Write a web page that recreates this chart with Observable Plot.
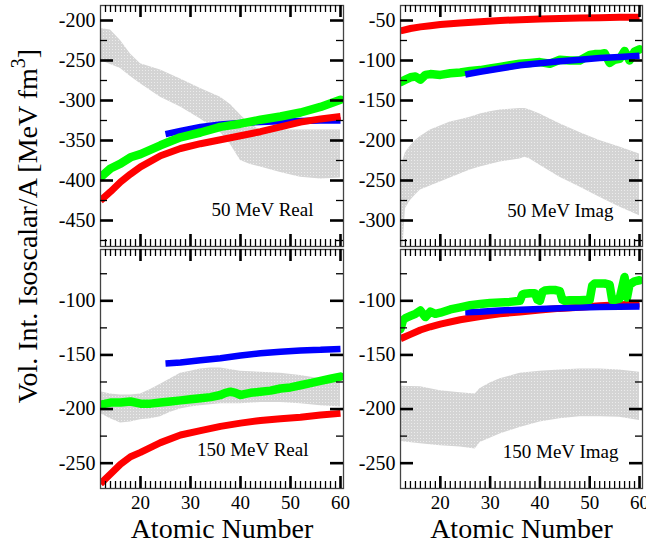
<!DOCTYPE html>
<html><head><meta charset="utf-8">
<script src="https://cdn.jsdelivr.net/npm/d3@7"></script>
<script src="https://cdn.jsdelivr.net/npm/@observablehq/plot@0.6"></script>
<style>
body{margin:0;background:#fff;}
#chart{position:relative;width:646px;height:544px;overflow:hidden;font-family:"Liberation Serif","Times New Roman",serif;background:#fff;}
#chart > svg{position:absolute;}
</style></head><body><div id="chart"></div>
<script>
// ---------- data ----------
const xMajor = [20, 30, 40, 50, 60];
const xMinor = d3.range(13, 60).filter(d => d % 10 !== 0);
const A_main = [12, 14, 16, 18, 20, 24, 28, 32, 36, 40, 44, 48, 52, 56, 60];
const A_blue = [25, 28, 32, 36, 40, 44, 48, 52, 56, 60];

// 50 MeV Real
const red50Real   = [-425, -414, -402, -392, -383, -369, -360, -354, -349, -344, -339, -333, -327, -323, -320];
const green50Real = [-396, -385, -379, -371, -367, -356, -346, -340, -333, -329, -324, -320, -315, -308, -299];
const blue50Real  = [-342, -338, -333, -330, -328, -327, -326, -325.5, -325, -325];
const band50RealA  = [12, 14, 16, 18, 20, 24, 28, 32, 36, 38, 40, 42, 44, 48, 52, 56, 60];
const band50RealHi = [-210, -212, -225, -242, -254, -262, -273, -285, -296, -305, -318, -330, -337, -337, -337, -337, -337];
const band50RealLo = [-250, -255, -260, -270, -279, -296, -308, -323, -340, -355, -375, -380, -383, -390, -396, -398, -397];

// 50 MeV Imag
const red50Imag = [-63, -60, -58, -56.5, -55, -53, -51.5, -50, -49, -48, -47.5, -47, -46.5, -46, -46];
const green50ImagA = [12, 13, 14, 15, 16, 17, 18, 20, 22, 24, 26, 28, 30, 32, 34, 36, 38, 40, 42, 44, 46, 48, 50, 51, 52, 53, 54, 55, 56, 57, 58, 59, 60];
const green50Imag  = [-127, -124, -121, -120, -124, -118, -117, -118, -116, -115, -113, -112, -110, -108, -106, -104, -103, -102, -104, -99, -100, -100, -93, -92, -92, -91, -103, -99, -98, -88, -100, -89, -86];
const blue50Imag = [-117.5, -114, -110, -106, -103.5, -101, -99, -97, -95.5, -94];
const band50ImagA  = [12, 12.5, 13, 14, 15, 16, 18, 20, 22, 24, 26, 28, 30, 32, 34, 36, 37, 38, 40, 44, 48, 52, 56, 60];
const band50ImagHi = [-238, -225, -215, -207, -200, -195, -187, -182, -177, -174, -171, -167, -164, -162, -161, -160, -160, -162, -167, -179, -190, -200, -208, -217];
const band50ImagLo = [-333, -333, -285, -275, -268, -262, -257, -252, -247, -242, -237, -233, -230, -227, -225, -223, -221, -223, -231, -246, -258, -271, -283, -294];

// 150 MeV Real
const red150Real = [-269, -260, -251, -244, -240, -231, -224, -220, -216, -213, -210.5, -209, -207.5, -205.5, -204];
const green150RealA = [12, 14, 16, 18, 20, 22, 24, 26, 28, 30, 32, 34, 36, 37, 38, 39, 40, 41, 42, 44, 46, 48, 50, 52, 54, 56, 58, 60];
const green150Real  = [-196, -194, -194, -193, -195, -195, -194, -193, -192, -191, -190, -189, -187, -185, -184, -185, -187, -186, -185, -184, -183, -181, -180, -178, -176, -174, -172, -170];
const blue150Real = [-158, -157, -155, -153, -150.5, -148.5, -147, -146, -145.3, -144.5];
const band150RealA  = [12, 14, 16, 18, 20, 22, 24, 26, 28, 30, 32, 34, 36, 40, 44, 48, 52, 56, 60];
const band150RealHi = [-184, -186, -187, -187, -186, -182, -177, -172, -167, -165, -163, -162, -162, -165, -166, -167, -169, -172, -175];
const band150RealLo = [-204, -209, -213, -212, -210, -209, -207, -203, -200, -198, -197, -196, -195, -195, -194, -194, -195, -197, -198];

// 150 MeV Imag
const red150Imag = [-135, -131, -127, -124, -121.5, -117.5, -114.5, -112, -110.3, -108.5, -107, -106, -104.5, -103.6, -103];
const blue150Imag = [-110.5, -110, -109, -108.2, -107.5, -106.8, -106.2, -105.8, -105.5, -105.3];
const green150ImagA = [12, 12.5, 13, 14, 15, 16, 17, 18, 19, 20, 22, 24, 26, 28, 30, 32, 34, 36, 36.5, 37, 38, 39, 39.5, 40, 40.5, 41, 42, 43, 44, 44.5, 45, 46, 48, 50, 50.5, 51, 52, 53, 54, 54.5, 55, 56, 57, 57.5, 58, 59, 60];
const green150Imag  = [-126, -118, -116, -114, -112, -109, -115, -110, -112, -111, -108, -106, -104, -103, -102, -101.5, -101, -100, -94, -93.5, -93, -93, -99, -100, -92, -90.5, -90, -90, -91, -99, -100, -99.5, -99.5, -99, -86, -84, -84, -84, -85, -99, -99, -98, -78, -97, -85, -82, -81];
const band150ImagA  = [12, 16, 20, 24, 27, 28, 30, 32, 36, 40, 44, 48, 52, 56, 60];
const band150ImagHi = [-179, -179.5, -183, -185, -186, -181, -176, -172, -167, -165, -164, -163, -163, -164, -166];
const band150ImagLo = [-230, -232, -234, -235, -237, -231, -227, -223, -217, -212, -209, -207, -207, -207.5, -210.5];

const panelLabels = ["50 MeV Real", "50 MeV Imag", "150 MeV Real", "150 MeV Imag"];
const xTitle = "Atomic Number";

// ---------- helpers ----------
const rows = (xs, ys) => xs.map((A, i) => ({A, v: ys[i]}));
const bandRows = (xs, hi, lo) => xs.map((A, i) => ({A, hi: hi[i], lo: lo[i]}));
const RED = "#ff0000", GREEN = "#00ff00", BLUE = "#0000ff";
const ns = "http://www.w3.org/2000/svg";

function lineMark(data, color) {
  if (color === GREEN) return Plot.line(data, {x: "A", y: "v", stroke: color, strokeWidth: 8.5, strokeLinecap: "round", strokeLinejoin: "round", clip: true});
  return Plot.line(data, {x: "A", y: "v", stroke: color, strokeWidth: color === RED ? 7 : 6.5, strokeLinecap: "butt", strokeLinejoin: "miter", clip: true});
}

let pid = 0;
function panel(o) {
  const id = "dots" + (pid++);
  const iw = o.width - o.mL - o.mR, ih = o.height - o.mT - o.mB;
  const marks = [
    Plot.areaY(o.band, {x: "A", y1: "lo", y2: "hi", fill: `url(#${id})`, clip: true}),
    ...o.lines.map(([d, c]) => lineMark(d, c)),
    Plot.frame({stroke: "#444", strokeWidth: 1.3}),
    Plot.tickY(o.yMajor, {y: d => d, insetRight: iw - 13, strokeWidth: 2.6, stroke: "#000"}),
    Plot.tickY(o.yMajor, {y: d => d, insetLeft: iw - 13, strokeWidth: 2.6, stroke: "#000"}),
    Plot.tickY(o.yMinor, {y: d => d, insetRight: iw - 7, strokeWidth: 1.3, stroke: "#000"}),
    Plot.tickY(o.yMinor, {y: d => d, insetLeft: iw - 7, strokeWidth: 1.3, stroke: "#000"}),
    Plot.tickX(xMajor, {x: d => d, insetBottom: ih - 12, strokeWidth: 2.6, stroke: "#000"}),
    Plot.tickX(xMajor, {x: d => d, insetTop: ih - 12, strokeWidth: 2.6, stroke: "#000"}),
    Plot.tickX(xMinor, {x: d => d, insetBottom: ih - 7, strokeWidth: 1.3, stroke: "#000"}),
    Plot.tickX(xMinor, {x: d => d, insetTop: ih - 7, strokeWidth: 1.3, stroke: "#000"}),
    Plot.axisY(o.yMajor, {anchor: "left", tickSize: 0, tickPadding: 5, fontSize: 20, label: null, tickFormat: d => d < 0 ? "-" + Math.abs(d) : d}),
    Plot.text([o.label], {frameAnchor: "bottom-right", textAnchor: "end", lineAnchor: "bottom", dx: o.ldx, dy: o.ldy, fontSize: 19, fill: "#000"})
  ];
  if (o.xAxis) {
    marks.push(Plot.axisX(xMajor, {anchor: "bottom", tickSize: 0, tickPadding: 7, fontSize: 19, label: null}));
    marks.push(Plot.text([xTitle], {frameAnchor: "bottom", textAnchor: "middle", lineAnchor: "bottom", dy: 49, fontSize: 28, fill: "#000"}));
  }
  const svg = Plot.plot({
    width: o.width, height: o.height,
    marginLeft: o.mL, marginRight: o.mR, marginTop: o.mT, marginBottom: o.mB,
    x: {domain: [12, 60.6], axis: null},
    y: {domain: o.yDomain, axis: null},
    style: {fontFamily: "'Liberation Serif','Times New Roman',serif", fontSize: "19px", color: "#000", background: "transparent", overflow: "visible"},
    marks
  });
  // dotted texture for the gray band
  const defs = document.createElementNS(ns, "defs");
  defs.innerHTML = `<pattern id="${id}" width="3" height="3" patternUnits="userSpaceOnUse"><rect width="3" height="3" fill="#d4d4d4"/><rect x="1" y="1" width="1" height="1" fill="#ececec"/></pattern>`;
  svg.insertBefore(defs, svg.firstChild);
  svg.style.left = o.left + "px";
  svg.style.top = o.top + "px";
  document.getElementById("chart").appendChild(svg);
}

const topMajorL = [-450, -400, -350, -300, -250, -200], topMinorL = [-475, -425, -375, -325, -275, -225];
const topMajorR = [-300, -250, -200, -150, -100, -50], topMinorR = [-325, -275, -225, -175, -125, -75];
const botMajor = [-250, -200, -150, -100], botMinor = [-225, -175, -125, -75];

panel({left: 0, top: 0, width: 350, height: 250, mL: 100, mR: 7, mT: 5, mB: 4,
  yDomain: [-482.5, -181.25], yMajor: topMajorL, yMinor: topMinorL,
  band: bandRows(band50RealA, band50RealHi, band50RealLo),
  lines: [[rows(A_blue, blue50Real), BLUE], [rows(A_main, red50Real), RED], [rows(A_main, green50Real), GREEN]],
  label: panelLabels[0], ldx: -30, ldy: -31});
panel({left: 350, top: 0, width: 296, height: 250, mL: 50, mR: 4, mT: 5, mB: 4,
  yDomain: [-332.5, -31.25], yMajor: topMajorR, yMinor: topMinorR,
  band: bandRows(band50ImagA, band50ImagHi, band50ImagLo),
  lines: [[rows(A_main, red50Imag), RED], [rows(green50ImagA, green50Imag), GREEN], [rows(A_blue, blue50Imag), BLUE]],
  label: panelLabels[1], ldx: -29, ldy: -30});
panel({left: 0, top: 245, width: 350, height: 299, mL: 100, mR: 7, mT: 4, mB: 56,
  yDomain: [-273.4, -52.6], yMajor: botMajor, yMinor: botMinor,
  band: bandRows(band150RealA, band150RealHi, band150RealLo),
  lines: [[rows(A_main, red150Real), RED], [rows(green150RealA, green150Real), GREEN], [rows(A_blue, blue150Real), BLUE]],
  label: panelLabels[2], ldx: -35, ldy: -33, xAxis: true});
panel({left: 350, top: 245, width: 296, height: 299, mL: 50, mR: 4, mT: 4, mB: 56,
  yDomain: [-273.4, -52.6], yMajor: botMajor, yMinor: botMinor,
  band: bandRows(band150ImagA, band150ImagHi, band150ImagLo),
  lines: [[rows(A_main, red150Imag), RED], [rows(A_blue, blue150Imag), BLUE], [rows(green150ImagA, green150Imag), GREEN]],
  label: panelLabels[3], ldx: -24, ldy: -31, xAxis: true});

// y-axis title
const tsvg = document.createElementNS(ns, "svg");
tsvg.setAttribute("width", 60); tsvg.setAttribute("height", 544);
tsvg.style.left = "0px"; tsvg.style.top = "0px";
const t = document.createElementNS(ns, "text");
t.setAttribute("transform", "translate(37,226) rotate(-90)");
t.setAttribute("text-anchor", "middle");
t.setAttribute("font-family", "'Liberation Serif','Times New Roman',serif");
t.setAttribute("font-size", 28);
t.appendChild(document.createTextNode("Vol. Int. Isoscalar/A [MeV fm"));
const sup = document.createElementNS(ns, "tspan");
sup.setAttribute("dy", -12); sup.setAttribute("font-size", 20); sup.textContent = "3";
t.appendChild(sup);
const close = document.createElementNS(ns, "tspan");
close.setAttribute("dy", 12); close.textContent = "]";
t.appendChild(close);
tsvg.appendChild(t);
document.getElementById("chart").appendChild(tsvg);
</script></body></html>
